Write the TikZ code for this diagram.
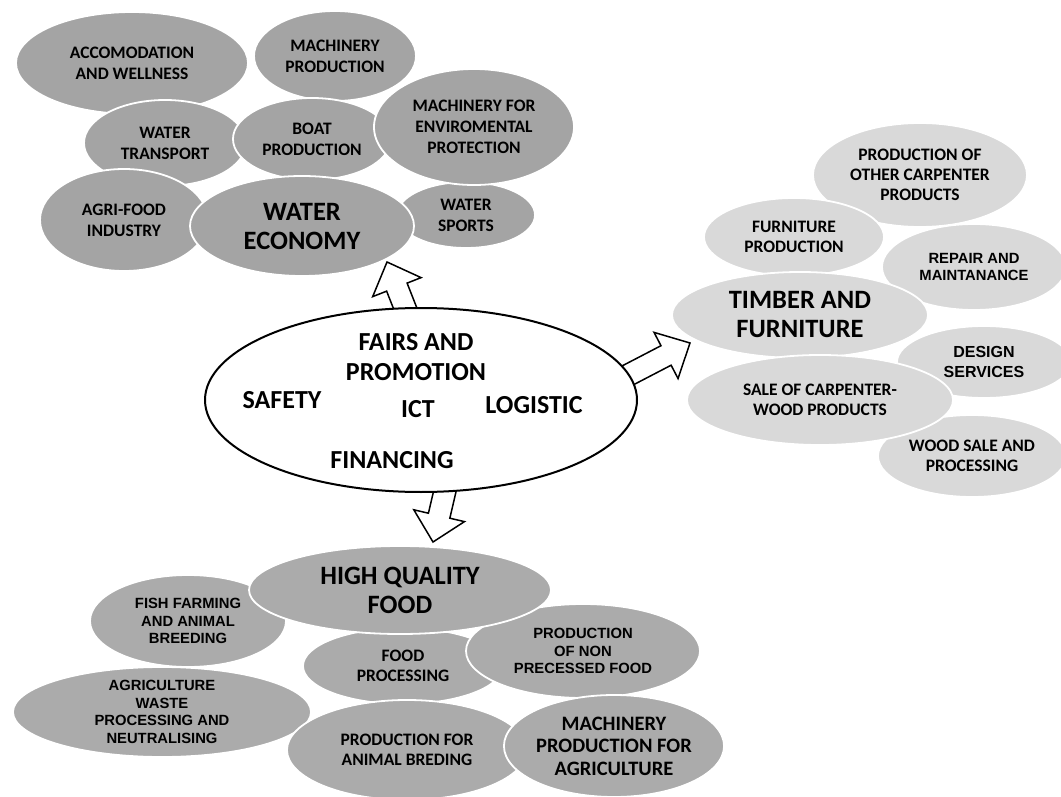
\documentclass[tikz,border=0pt]{standalone}
\usepackage{fontspec}
\setmainfont{Carlito}
\newfontfamily\arialfont{Liberation Sans}
\usepackage{tikz}
\usetikzlibrary{shapes.geometric,calc}

\definecolor{waterGray}{RGB}{164,164,164}
\definecolor{foodGray}{RGB}{171,171,171}
\definecolor{timberGray}{RGB}{217,217,217}

\newcommand{\calsmall}{\bfseries\fontsize{17.5}{21}\selectfont}
\newcommand{\calmid}{\bfseries\fontsize{17.5}{20}\selectfont}
\newcommand{\calhub}{\bfseries\fontsize{26.5}{29}\selectfont}
\newcommand{\arsmall}{\arialfont\bfseries\fontsize{14.8}{17.5}\selectfont}

% block arrow from tail to tip
\newcommand{\bigarrow}[2]{%
  \coordinate (hb) at ($(#2)!27pt!(#1)$);
  \draw[blockarrow] ($(#1)!11pt!90:(#2)$) -- ($(hb)!11pt!-90:(#1)$)
    -- ($(hb)!26pt!-90:(#1)$) -- (#2) -- ($(hb)!26pt!90:(#1)$)
    -- ($(hb)!11pt!90:(#1)$) -- ($(#1)!11pt!-90:(#2)$) -- cycle;}

\begin{document}
\begin{tikzpicture}[x=1pt, y=-1pt,
    bubble/.style={ellipse, draw=white, line width=1.8pt, inner sep=0pt, align=center},
    waterbub/.style={bubble, fill=waterGray, font=\calsmall},
    foodbub/.style={bubble, fill=foodGray, font=\calmid},
    timberbub/.style={bubble, fill=timberGray, font=\calmid},
    hub/.style={font=\calhub},
    arial/.style={font=\arsmall},
    coretext/.style={align=center, font=\bfseries\fontsize{26}{30}\selectfont},
    blockarrow/.style={draw=black, fill=white, line width=1.5pt, line join=miter}]
    \useasboundingbox (0,0) rectangle (1061,797);

    % Water economy
    \node[waterbub, minimum width=232, minimum height=102] (accom) at (132,63) {ACCOMODATION\\AND WELLNESS};
    \node[waterbub, minimum width=162, minimum height=90] (machprod) at (335,56) {MACHINERY\\PRODUCTION};
    \node[waterbub, minimum width=162, minimum height=86] (transport) at (165,143) {WATER\\TRANSPORT};
    \node[waterbub, minimum width=158, minimum height=82] (boat) at (312,139) {BOAT\\PRODUCTION};
    \node[waterbub, minimum width=138, minimum height=66] (sports) at (466,215) {WATER\\SPORTS};
    \node[waterbub, minimum width=200, minimum height=116] (env) at (474,127) {MACHINERY FOR\\ENVIROMENTAL\\PROTECTION};
    \node[waterbub, minimum width=168, minimum height=102] (agrifood) at (124,220) {AGRI-FOOD\\INDUSTRY};
    \node[waterbub, hub, minimum width=224, minimum height=100] (water) at (302,226) {WATER\\ECONOMY};

    % Timber and furniture
    \node[timberbub, minimum width=214, minimum height=104] (other) at (920,175) {PRODUCTION OF\\OTHER CARPENTER\\PRODUCTS};
    \node[timberbub, minimum width=180, minimum height=78] (furnprod) at (794,237) {FURNITURE\\PRODUCTION};
    \node[timberbub, arial, minimum width=184, minimum height=86] (repair) at (974,267) {REPAIR AND\\MAINTANANCE};
    \node[timberbub, minimum width=174, minimum height=72,
          font=\arialfont\bfseries\fontsize{16}{20}\selectfont] (design) at (984,362) {DESIGN\\SERVICES};
    \node[timberbub, minimum width=188, minimum height=82] (woodsale) at (972,456) {WOOD SALE AND\\PROCESSING};
    \node[timberbub, hub, minimum width=256, minimum height=86] (timber) at (800,315) {TIMBER AND\\FURNITURE};
    \node[timberbub, minimum width=266, minimum height=90] (sale) at (820,400) {SALE OF CARPENTER-\\WOOD PRODUCTS};

    % High quality food
    \node[foodbub, arial, minimum width=196, minimum height=92] (fish) at (188,621) {FISH FARMING\\AND ANIMAL\\BREEDING};
    \node[foodbub, arial, minimum width=298, minimum height=90] (waste) at (162,712) {AGRICULTURE\\WASTE\\PROCESSING AND\\NEUTRALISING};
    \node[foodbub, minimum width=200, minimum height=76] (foodproc) at (403,666) {FOOD\\PROCESSING};
    \node[foodbub, arial, minimum width=234, minimum height=94] (nonproc) at (583,651) {PRODUCTION\\OF NON\\PRECESSED FOOD};
    \node[foodbub, minimum width=240, minimum height=100] (animal) at (407,750) {PRODUCTION FOR\\ANIMAL BREDING};
    \node[foodbub, minimum width=220, minimum height=102,
          font=\bfseries\fontsize{20.5}{22.5}\selectfont] (machagri) at (614,746) {MACHINERY\\PRODUCTION FOR\\AGRICULTURE};
    \node[foodbub, hub, minimum width=302, minimum height=88] (food) at (400,590) {HIGH QUALITY\\FOOD};

    % Arrows
    \coordinate (tailW) at (409,318);
    \coordinate (tipW) at (387,262);
    \coordinate (tailT) at (615,382);
    \coordinate (tipT) at (690,343);
    \coordinate (tailF) at (447,482);
    \coordinate (tipF) at (433,542);
    \bigarrow{tailW}{tipW}
    \bigarrow{tailT}{tipT}
    \bigarrow{tailF}{tipF}

    % Core
    \node[ellipse, draw=black, fill=white, line width=2pt, minimum width=432, minimum height=184] (core) at (421,400) {};
    \node[coretext] (fairs) at (416,357) {FAIRS AND\\PROMOTION};
    \node[coretext] (safety) at (282,400) {SAFETY};
    \node[coretext] (ict) at (418,409) {ICT};
    \node[coretext] (logistic) at (534,405) {LOGISTIC};
    \node[coretext] (financing) at (392,460) {FINANCING};
\end{tikzpicture}
\end{document}
